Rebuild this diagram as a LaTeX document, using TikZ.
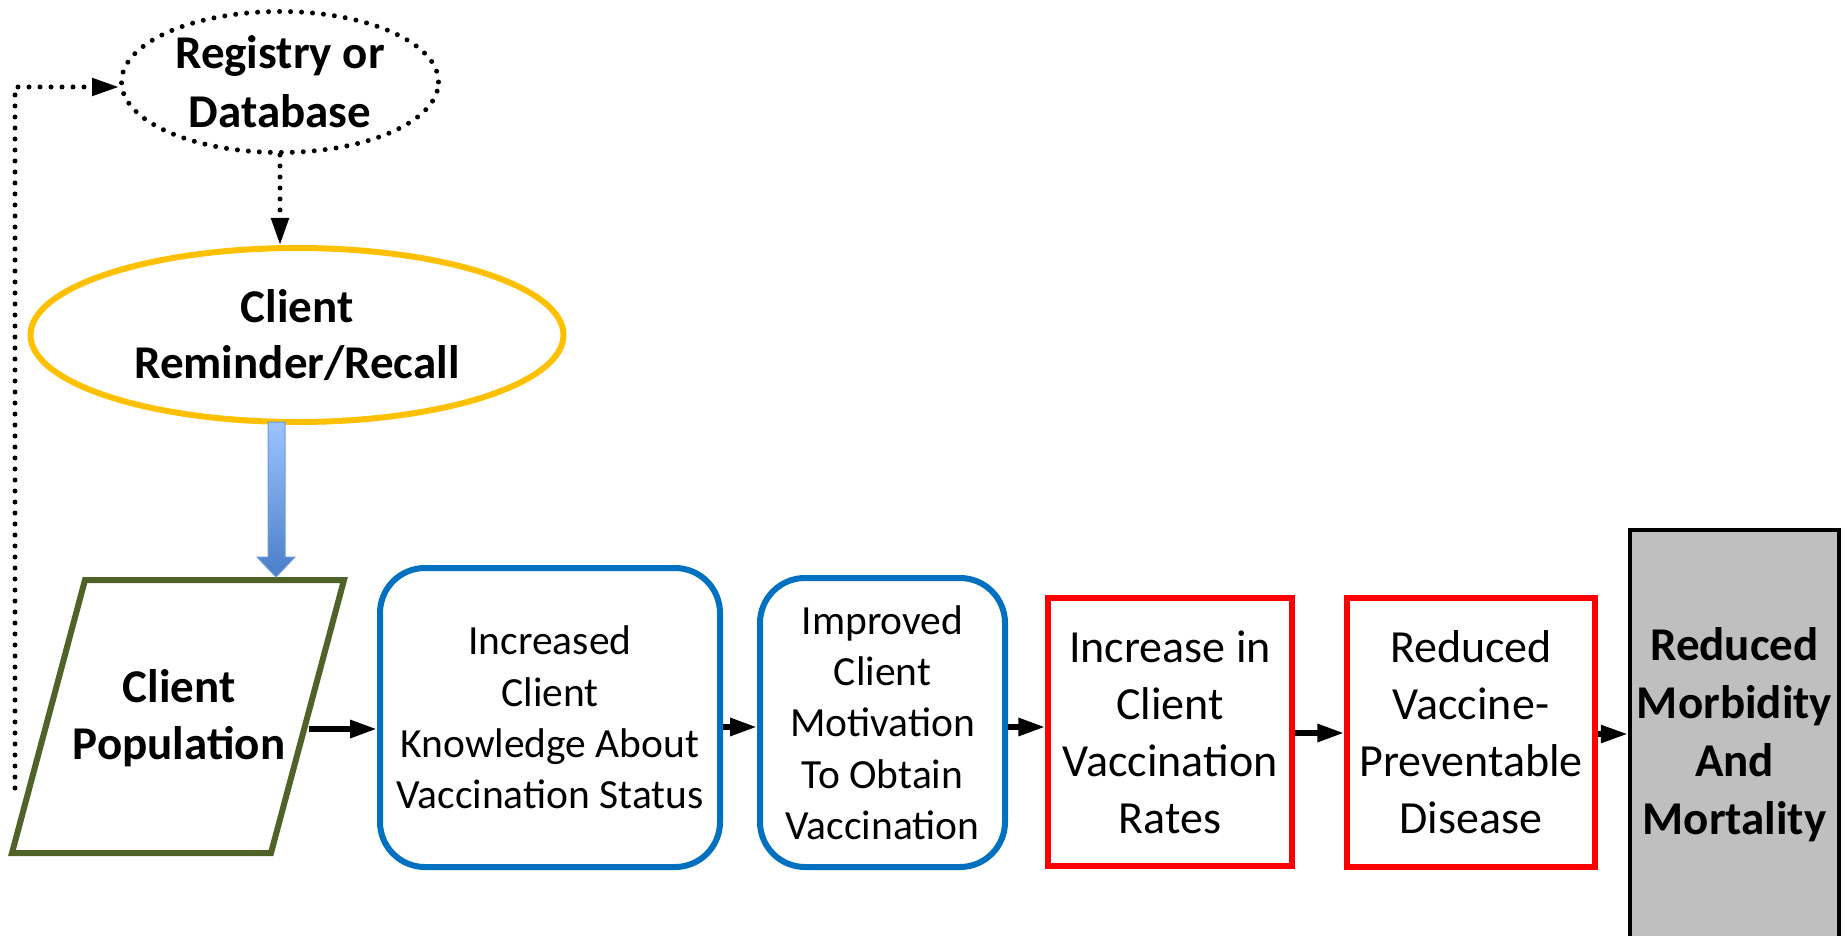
\documentclass[tikz,border=0pt]{standalone}
\usepackage{fontspec}
\setmainfont{Carlito}
\usetikzlibrary{arrows.meta,shapes.geometric}
\definecolor{ygold}{HTML}{FFC000}
\definecolor{pgreen}{HTML}{4F6228}
\definecolor{bblue}{HTML}{0070C0}
\definecolor{rred}{HTML}{FF0000}
\definecolor{gfill}{HTML}{BFBFBF}
\definecolor{arrtop}{HTML}{9DC3FF}
\definecolor{arrbot}{HTML}{4A7EC8}
\definecolor{arrline}{HTML}{6A9AE0}
\begin{document}
\begin{tikzpicture}[x=1pt,y=-1pt,
  boldtxt/.style={font=\fontsize{47}{57}\selectfont\bfseries, align=center},
  bluetxt/.style={font=\fontsize{41.5}{51.3}\selectfont, align=center},
  redtxt/.style={font=\fontsize{46}{57}\selectfont, align=center},
  dotline/.style={line width=5pt, line cap=round, dash pattern=on 0pt off 11pt},
  arr/.style={line width=6pt, -{Triangle[length=27pt,width=17pt]}},
  dotarr/.style={dotline, -{Triangle[length=27pt,width=17pt]}},
  bluebox/.style={draw=bblue, line width=6pt, rounded corners=45pt, inner sep=0pt},
  redbox/.style={draw=rred, line width=5.5pt, inner sep=0pt},
]
\useasboundingbox (0,0) rectangle (1847,936);
\clip (0,0) rectangle (1847,936);

% registry
\node[ellipse, draw, dotline, minimum width=317pt, minimum height=141pt, inner sep=0pt,
      boldtxt, font=\fontsize{47}{59}\selectfont\bfseries] (reg) at (280,82) {Registry or\\Database};

% reminder
\node[ellipse, draw=ygold, line width=6pt, minimum width=533pt, minimum height=174pt, inner sep=0pt,
      boldtxt, font=\fontsize{47}{56}\selectfont\bfseries] (rem) at (297,335) {Client\\Reminder/Recall};

% client population parallelogram
\draw[pgreen, line width=6pt, line join=miter] (85,580) -- (344,580) -- (271,853) -- (12,853) -- cycle;
\node[boldtxt] (pop) at (179,718) {Client\\Population};
\coordinate (popR) at (309,729);
\coordinate (loopS) at (15,788);
\coordinate (loopC) at (15,87);

% boxes
\node[bluebox, minimum width=340pt, minimum height=299pt, bluetxt] (box1) at (550,717.5)
  {Increased\\Client\\Knowledge About\\Vaccination Status};
\node[bluebox, minimum width=245pt, minimum height=289pt, bluetxt] (box2) at (882.5,722.5)
  {Improved\\Client\\Motivation\\To Obtain\\Vaccination};
\node[redbox, minimum width=244pt, minimum height=268pt, redtxt] (red1) at (1170,732)
  {Increase in\\Client\\Vaccination\\Rates};
\node[redbox, minimum width=248pt, minimum height=269pt, redtxt] (red2) at (1471,732.5)
  {Reduced\\Vaccine-\\Preventable\\Disease};
\node[draw=black, fill=gfill, line width=4.5pt, minimum width=209pt, minimum height=420pt, inner sep=0pt] (gray) at (1734.5,740) {};
\node[boldtxt, font=\fontsize{47}{58}\selectfont\bfseries] (graytxt) at (1734.5,735) {Reduced\\Morbidity\\And\\Mortality};

% blue gradient arrow from reminder to population
\shade[top color=arrtop, bottom color=arrbot, draw=arrline, line width=1pt]
  (268,422) -- (285,422) -- (285,557) -- (295,557) -- (276,577) -- (257,557) -- (268,557) -- cycle;

% dotted connectors
\draw[dotarr] (loopS) -- (loopC) -- (loopC -| reg.west);
\draw[dotarr] (reg.south) -- (reg.south |- rem.north);

% chain arrows
\draw[arr] (popR) -- (popR -| box1.west);
\draw[arr] (box1.east |- 0,727) -- (box2.west |- 0,727);
\draw[arr] (box2.east |- 0,727) -- (red1.west |- 0,727);
\draw[arr] (red1.east |- 0,733) -- (red2.west |- 0,733);
\draw[arr, line width=5.5pt] (red2.east |- 0,734) -- (gray.west |- 0,734);
\end{tikzpicture}
\end{document}
